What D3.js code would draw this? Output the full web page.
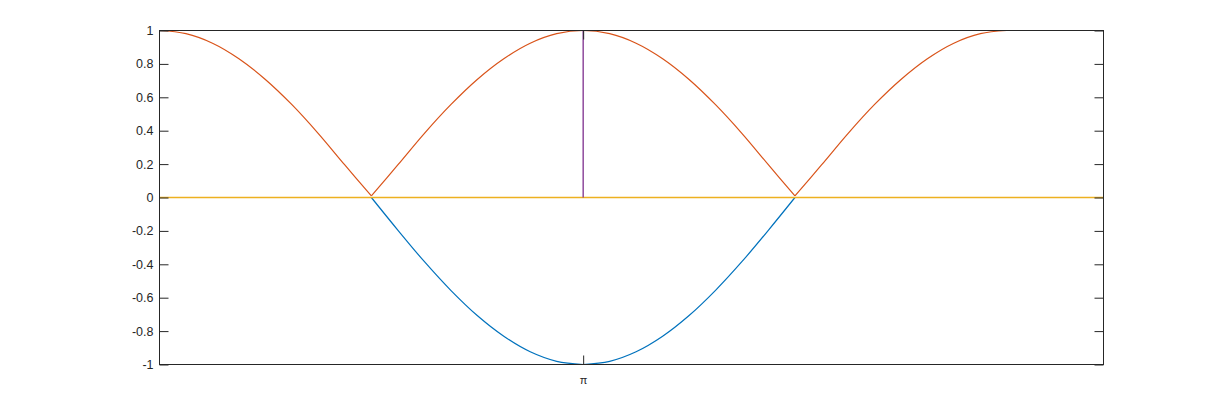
<!DOCTYPE html>
<html>
<head>
<meta charset="utf-8">
<script src="https://cdn.jsdelivr.net/npm/d3@7"></script>
<style>
  html, body { margin: 0; padding: 0; background: #ffffff; }
  svg { display: block; }
</style>
</head>
<body>
<svg id="chart" width="1220" height="411"></svg>
<script>
// ---- data ----
const xDomain = [0, 7];
const yDomain = [-1, 1];
const yTicks = [-1, -0.8, -0.6, -0.4, -0.2, 0, 0.2, 0.4, 0.6, 0.8, 1];
const xTicks = [3.1416];
const xTickLabels = ["π"];

// red curve (abs of cosine shape), sampled points
const redX = [0, 0.196, 0.393, 0.589, 0.785, 0.982, 1.178, 1.374, 1.571, 1.767, 1.963, 2.160, 2.356, 2.553, 2.749, 2.945,
              3.142, 3.338, 3.534, 3.731, 3.927, 4.123, 4.320, 4.516, 4.712, 4.909, 5.105, 5.301, 5.498, 5.694, 5.890, 6.087, 6.283];
const redY = [1, 0.981, 0.924, 0.831, 0.707, 0.556, 0.383, 0.195, 0.01, 0.195, 0.383, 0.556, 0.707, 0.831, 0.924, 0.981,
              1, 0.981, 0.924, 0.831, 0.707, 0.556, 0.383, 0.195, 0.01, 0.195, 0.383, 0.556, 0.707, 0.831, 0.924, 0.981, 1];

// blue curve (negative lobe)
const blueX = [1.571, 1.767, 1.963, 2.160, 2.356, 2.553, 2.749, 2.945, 3.142, 3.338, 3.534, 3.731, 3.927, 4.123, 4.320, 4.516, 4.712];
const blueY = [0, -0.195, -0.383, -0.556, -0.707, -0.831, -0.924, -0.981, -1, -0.981, -0.924, -0.831, -0.707, -0.556, -0.383, -0.195, 0];

// yellow horizontal line
const yellowX = [0, 7];
const yellowY = [0, 0];

// purple vertical line
const purpleX = [3.1416, 3.1416];
const purpleY = [0, 1];

const colors = { blue: "#0072BD", red: "#D95319", yellow: "#EDB120", purple: "#7E2F8E" };

// ---- layout ----
const mLeft = 159.5, mRight = 1103.5, mTop = 30.5, mBottom = 364.5;
const svg = d3.select("#chart");
const x = d3.scaleLinear().domain(xDomain).range([mLeft, mRight]);
const y = d3.scaleLinear().domain(yDomain).range([mBottom, mTop]);
const axisColor = "#262626";
const tickLen = 9;

const plot = svg.append("g");

// split a series at sharp local minima (V corners) and draw each smooth arch
function pieces(xs, ys) {
  const pts = xs.map((v, i) => [v, ys[i]]);
  const out = [];
  let cur = [pts[0]];
  for (let i = 1; i < pts.length; i++) {
    cur.push(pts[i]);
    if (i < pts.length - 1 && ys[i] < ys[i - 1] && ys[i] < ys[i + 1]) {
      out.push(cur);
      cur = [pts[i]];
    }
  }
  out.push(cur);
  return out;
}
const smooth = d3.line().x(d => x(d[0])).y(d => y(d[1])).curve(d3.curveCatmullRom.alpha(0.5));
const straight = d3.line().x(d => x(d[0])).y(d => y(d[1]));
function drawSeries(xs, ys, color, gen, width) {
  pieces(xs, ys).forEach(p => {
    plot.append("path")
      .datum(p)
      .attr("fill", "none")
      .attr("stroke", color)
      .attr("stroke-width", width)
      .attr("stroke-linejoin", "round")
      .attr("d", gen);
  });
}
drawSeries(blueX, blueY, colors.blue, smooth, 1.2);
drawSeries(redX, redY, colors.red, smooth, 1.2);
drawSeries(yellowX, yellowY, colors.yellow, straight, 1.6);
drawSeries(purpleX, purpleY, colors.purple, straight, 1.3);

// ---- axes ----
const font = "'Liberation Sans', Arial, Helvetica, sans-serif";
const yAxisL = d3.axisLeft(y).tickValues(yTicks).tickSize(-tickLen).tickPadding(6)
  .tickFormat(d => String(+d.toFixed(1)));
const yAxisR = d3.axisRight(y).tickValues(yTicks).tickSize(-tickLen).tickFormat("");
const xAxisB = d3.axisBottom(x).tickValues(xTicks).tickSize(-tickLen).tickPadding(12)
  .tickFormat((d, i) => xTickLabels[i]);
const xAxisT = d3.axisTop(x).tickValues(xTicks).tickSize(-tickLen).tickFormat("");

function style(g) {
  g.select(".domain").remove();
  g.selectAll(".tick line").attr("stroke", axisColor).attr("stroke-width", 1);
  g.selectAll(".tick text").attr("fill", axisColor).attr("font-family", font);
}
svg.append("g").attr("transform", `translate(${mLeft},0)`).call(yAxisL).call(style)
  .selectAll(".tick text").attr("font-size", "12.5px");
svg.append("g").attr("transform", `translate(${mRight},0)`).call(yAxisR).call(style);
svg.append("g").attr("transform", `translate(0,${mBottom})`).call(xAxisB).call(style)
  .selectAll(".tick text").attr("font-size", "11px");
svg.append("g").attr("transform", `translate(0,${mTop})`).call(xAxisT).call(style);

// box
svg.append("rect").attr("x", mLeft).attr("y", mTop).attr("width", mRight - mLeft).attr("height", mBottom - mTop)
  .attr("fill", "none").attr("stroke", axisColor).attr("stroke-width", 1);
</script>
</body>
</html>
